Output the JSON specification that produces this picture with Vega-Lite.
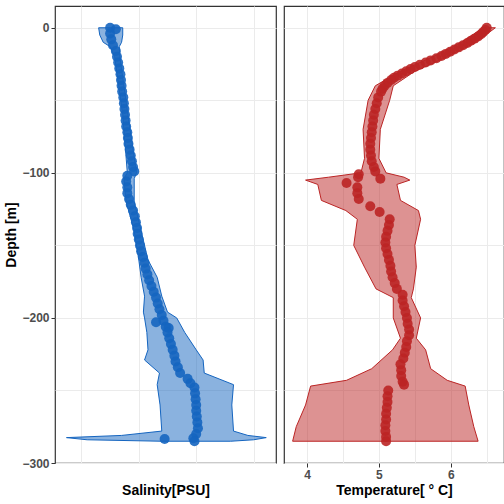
{
  "$schema": "https://vega.github.io/schema/vega-lite/v6.json",
  "background": "white",
  "padding": {"left": 4, "top": 5, "right": 6, "bottom": 4},
  "spacing": 6,
  "datasets": {
    "sal_band": [
      {"depth": 0, "lo": 31.8, "hi": 32.22}, {"depth": -5, "lo": 31.82, "hi": 32.22}, {"depth": -10, "lo": 31.88, "hi": 32.2},
      {"depth": -13, "lo": 32.0, "hi": 32.16}, {"depth": -20, "lo": 32.08, "hi": 32.17}, {"depth": -60, "lo": 32.22, "hi": 32.31},
      {"depth": -100, "lo": 32.3, "hi": 32.46}, {"depth": -104, "lo": 32.24, "hi": 32.42}, {"depth": -120, "lo": 32.28, "hi": 32.42},
      {"depth": -140, "lo": 32.42, "hi": 32.54}, {"depth": -160, "lo": 32.5, "hi": 32.66}, {"depth": -172, "lo": 32.54, "hi": 32.82},
      {"depth": -185, "lo": 32.6, "hi": 32.9}, {"depth": -196, "lo": 32.58, "hi": 33.0}, {"depth": -200, "lo": 32.6, "hi": 33.16},
      {"depth": -210, "lo": 32.64, "hi": 33.3}, {"depth": -222, "lo": 32.66, "hi": 33.5}, {"depth": -229, "lo": 32.6, "hi": 33.62},
      {"depth": -238, "lo": 32.86, "hi": 33.64}, {"depth": -246, "lo": 32.82, "hi": 34.15}, {"depth": -260, "lo": 32.87, "hi": 34.12},
      {"depth": -278, "lo": 32.9, "hi": 34.15}, {"depth": -281, "lo": 32.2, "hi": 34.4}, {"depth": -282.5, "lo": 31.24, "hi": 34.72},
      {"depth": -284, "lo": 31.6, "hi": 34.5}, {"depth": -285, "lo": 32.9, "hi": 34.1}
    ],
    "tem_band": [
      {"depth": 0, "lo": 6.45, "hi": 6.62}, {"depth": -10, "lo": 6.15, "hi": 6.35}, {"depth": -20, "lo": 5.75, "hi": 5.95},
      {"depth": -30, "lo": 5.3, "hi": 5.5}, {"depth": -40, "lo": 4.95, "hi": 5.2}, {"depth": -50, "lo": 4.85, "hi": 5.15},
      {"depth": -70, "lo": 4.78, "hi": 5.02}, {"depth": -90, "lo": 4.8, "hi": 5.0}, {"depth": -100, "lo": 4.75, "hi": 5.1},
      {"depth": -103, "lo": 4.3, "hi": 5.35}, {"depth": -105, "lo": 3.98, "hi": 5.43}, {"depth": -108, "lo": 4.15, "hi": 5.25},
      {"depth": -119, "lo": 4.2, "hi": 5.3}, {"depth": -126, "lo": 4.54, "hi": 5.55}, {"depth": -132, "lo": 4.7, "hi": 5.58},
      {"depth": -150, "lo": 4.65, "hi": 5.5}, {"depth": -165, "lo": 4.8, "hi": 5.52}, {"depth": -180, "lo": 4.96, "hi": 5.48},
      {"depth": -186, "lo": 5.2, "hi": 5.45}, {"depth": -200, "lo": 5.2, "hi": 5.58}, {"depth": -214, "lo": 5.3, "hi": 5.52},
      {"depth": -222, "lo": 5.19, "hi": 5.65}, {"depth": -235, "lo": 4.9, "hi": 5.72}, {"depth": -243, "lo": 4.55, "hi": 5.95},
      {"depth": -247, "lo": 4.05, "hi": 6.2}, {"depth": -260, "lo": 3.98, "hi": 6.25}, {"depth": -275, "lo": 3.85, "hi": 6.32},
      {"depth": -285, "lo": 3.8, "hi": 6.38}
    ],
    "sal_pts": [
      {"depth": 0, "v": 32.0}, {"depth": -1, "v": 32.1}, {"depth": -4, "v": 32.0}, {"depth": -8, "v": 32.02}, {"depth": -12, "v": 32.05},
      {"depth": -16, "v": 32.1}, {"depth": -20, "v": 32.12}, {"depth": -24, "v": 32.14}, {"depth": -28, "v": 32.16}, {"depth": -32, "v": 32.18},
      {"depth": -36, "v": 32.19}, {"depth": -40, "v": 32.2}, {"depth": -44, "v": 32.21}, {"depth": -48, "v": 32.23}, {"depth": -52, "v": 32.24},
      {"depth": -56, "v": 32.25}, {"depth": -60, "v": 32.26}, {"depth": -64, "v": 32.27}, {"depth": -68, "v": 32.28}, {"depth": -72, "v": 32.3},
      {"depth": -76, "v": 32.31}, {"depth": -80, "v": 32.32}, {"depth": -84, "v": 32.34}, {"depth": -88, "v": 32.36}, {"depth": -92, "v": 32.38},
      {"depth": -96, "v": 32.4}, {"depth": -99, "v": 32.42}, {"depth": -102, "v": 32.3}, {"depth": -106, "v": 32.28}, {"depth": -110, "v": 32.3},
      {"depth": -114, "v": 32.3}, {"depth": -118, "v": 32.33}, {"depth": -122, "v": 32.36}, {"depth": -126, "v": 32.4}, {"depth": -130, "v": 32.43},
      {"depth": -134, "v": 32.45}, {"depth": -138, "v": 32.47}, {"depth": -142, "v": 32.48}, {"depth": -146, "v": 32.5}, {"depth": -150, "v": 32.52},
      {"depth": -154, "v": 32.54}, {"depth": -158, "v": 32.57}, {"depth": -162, "v": 32.6}, {"depth": -166, "v": 32.62}, {"depth": -170, "v": 32.65},
      {"depth": -174, "v": 32.68}, {"depth": -178, "v": 32.72}, {"depth": -182, "v": 32.76}, {"depth": -186, "v": 32.8}, {"depth": -190, "v": 32.83},
      {"depth": -194, "v": 32.86}, {"depth": -198, "v": 32.9}, {"depth": -202, "v": 32.93}, {"depth": -203, "v": 32.8}, {"depth": -206, "v": 32.97},
      {"depth": -207, "v": 33.02}, {"depth": -210, "v": 33.0}, {"depth": -214, "v": 33.03}, {"depth": -218, "v": 33.06}, {"depth": -222, "v": 33.09},
      {"depth": -226, "v": 33.12}, {"depth": -230, "v": 33.14}, {"depth": -234, "v": 33.18}, {"depth": -238, "v": 33.22}, {"depth": -242, "v": 33.35},
      {"depth": -245, "v": 33.4}, {"depth": -248, "v": 33.47}, {"depth": -252, "v": 33.48}, {"depth": -256, "v": 33.49}, {"depth": -260, "v": 33.5},
      {"depth": -264, "v": 33.5}, {"depth": -268, "v": 33.51}, {"depth": -272, "v": 33.52}, {"depth": -276, "v": 33.53}, {"depth": -280, "v": 33.5},
      {"depth": -283, "v": 33.45}, {"depth": -285, "v": 33.47}, {"depth": -283.5, "v": 32.95}
    ],
    "tem_pts": [
      {"depth": 0, "v": 6.5}, {"depth": -1.5, "v": 6.48}, {"depth": -3, "v": 6.45}, {"depth": -4.5, "v": 6.42}, {"depth": -6, "v": 6.38},
      {"depth": -7.5, "v": 6.33}, {"depth": -9, "v": 6.28}, {"depth": -10.5, "v": 6.23}, {"depth": -12, "v": 6.17}, {"depth": -13.5, "v": 6.11},
      {"depth": -15, "v": 6.05}, {"depth": -16.5, "v": 5.99}, {"depth": -18, "v": 5.93}, {"depth": -19.5, "v": 5.87}, {"depth": -21, "v": 5.8},
      {"depth": -22.5, "v": 5.72}, {"depth": -24, "v": 5.65}, {"depth": -25.5, "v": 5.57}, {"depth": -27, "v": 5.5}, {"depth": -28.5, "v": 5.44},
      {"depth": -30, "v": 5.38}, {"depth": -31.5, "v": 5.32}, {"depth": -33, "v": 5.26}, {"depth": -34.5, "v": 5.21}, {"depth": -36, "v": 5.17},
      {"depth": -38, "v": 5.12}, {"depth": -40, "v": 5.08}, {"depth": -42, "v": 5.05}, {"depth": -44, "v": 5.03},
      {"depth": -48, "v": 4.99}, {"depth": -52, "v": 4.97}, {"depth": -56, "v": 4.95}, {"depth": -60, "v": 4.93}, {"depth": -64, "v": 4.92},
      {"depth": -68, "v": 4.91}, {"depth": -72, "v": 4.9}, {"depth": -76, "v": 4.89}, {"depth": -80, "v": 4.88}, {"depth": -84, "v": 4.88},
      {"depth": -88, "v": 4.89}, {"depth": -92, "v": 4.9}, {"depth": -96, "v": 4.93}, {"depth": -99, "v": 4.95},
      {"depth": -101, "v": 4.72}, {"depth": -103, "v": 4.71}, {"depth": -104, "v": 5.02}, {"depth": -107, "v": 4.55},
      {"depth": -110, "v": 4.7}, {"depth": -114, "v": 4.7}, {"depth": -118, "v": 4.72}, {"depth": -123, "v": 4.88}, {"depth": -127, "v": 5.01},
      {"depth": -132, "v": 5.15}, {"depth": -136, "v": 5.14}, {"depth": -140, "v": 5.12}, {"depth": -144, "v": 5.1}, {"depth": -148, "v": 5.09},
      {"depth": -152, "v": 5.1}, {"depth": -156, "v": 5.12}, {"depth": -160, "v": 5.14}, {"depth": -164, "v": 5.16}, {"depth": -168, "v": 5.17},
      {"depth": -172, "v": 5.19}, {"depth": -176, "v": 5.22}, {"depth": -180, "v": 5.25}, {"depth": -184, "v": 5.33}, {"depth": -188, "v": 5.33},
      {"depth": -192, "v": 5.35}, {"depth": -196, "v": 5.37}, {"depth": -200, "v": 5.39}, {"depth": -204, "v": 5.4}, {"depth": -208, "v": 5.42},
      {"depth": -212, "v": 5.42}, {"depth": -216, "v": 5.39}, {"depth": -220, "v": 5.38}, {"depth": -224, "v": 5.36}, {"depth": -228, "v": 5.34},
      {"depth": -232, "v": 5.3}, {"depth": -236, "v": 5.31}, {"depth": -240, "v": 5.31}, {"depth": -244, "v": 5.33}, {"depth": -246, "v": 5.35},
      {"depth": -250, "v": 5.13}, {"depth": -254, "v": 5.12}, {"depth": -258, "v": 5.12}, {"depth": -262, "v": 5.11}, {"depth": -266, "v": 5.1},
      {"depth": -270, "v": 5.1}, {"depth": -274, "v": 5.09}, {"depth": -278, "v": 5.09}, {"depth": -282, "v": 5.1}, {"depth": -285, "v": 5.1}
    ]
  },
  "hconcat": [
    {
      "width": 221,
      "height": 457,
      "layer": [
        {
          "data": {"name": "sal_band"},
          "mark": {"type": "area", "orient": "horizontal", "fill": "#1565C0", "fillOpacity": 0.5, "stroke": "#1565C0", "strokeWidth": 1},
          "encoding": {
            "y": {"field": "depth", "type": "quantitative", "scale": {"domain": [-300, 15], "nice": false, "zero": false},
              "title": "Depth [m]",
              "axis": {"values": [-300, -250, -200, -150, -100, -50, 0], "labelOverlap": false,
                "labelExpr": "datum.value % 100 == 0 ? format(datum.value, 'd') : ''",
                "tickOpacity": {"condition": {"test": "datum.value % 100 != 0", "value": 0}, "value": 1}}},
            "x": {"field": "lo", "type": "quantitative", "scale": {"domain": [31.04, 34.89], "nice": false, "zero": false},
              "title": "Salinity[PSU]",
              "axis": {"values": [31.5, 32, 32.5, 33, 33.5, 34, 34.5], "labelOverlap": false,
                "labelExpr": "round(datum.value) == datum.value ? format(datum.value, 'd') : ''",
                "tickOpacity": {"condition": {"test": "round(datum.value) != datum.value", "value": 0}, "value": 1}}},
            "x2": {"field": "hi"}
          }
        },
        {
          "data": {"name": "sal_pts"},
          "mark": {"type": "circle", "size": 100, "color": "#1565C0", "opacity": 0.9},
          "encoding": {
            "y": {"field": "depth", "type": "quantitative"},
            "x": {"field": "v", "type": "quantitative"}
          }
        }
      ]
    },
    {
      "width": 220,
      "height": 457,
      "layer": [
        {
          "data": {"name": "tem_band"},
          "mark": {"type": "area", "orient": "horizontal", "fill": "#BB2525", "fillOpacity": 0.5, "stroke": "#BB2525", "strokeWidth": 1},
          "encoding": {
            "y": {"field": "depth", "type": "quantitative", "scale": {"domain": [-300, 15], "nice": false, "zero": false},
              "title": null,
              "axis": {"values": [-300, -250, -200, -150, -100, -50, 0], "labels": false, "ticks": false,
                "minExtent": 0, "maxExtent": 0, "labelPadding": 0, "offset": 0}},
            "x": {"field": "lo", "type": "quantitative", "scale": {"domain": [3.68, 6.74], "nice": false, "zero": false},
              "title": "Temperature[ ° C]",
              "axis": {"values": [4, 4.5, 5, 5.5, 6, 6.5], "labelOverlap": false,
                "labelExpr": "round(datum.value) == datum.value ? format(datum.value, 'd') : ''",
                "tickOpacity": {"condition": {"test": "round(datum.value) != datum.value", "value": 0}, "value": 1}}},
            "x2": {"field": "hi"}
          }
        },
        {
          "data": {"name": "tem_pts"},
          "mark": {"type": "circle", "size": 100, "color": "#BB2525", "opacity": 0.9},
          "encoding": {
            "y": {"field": "depth", "type": "quantitative"},
            "x": {"field": "v", "type": "quantitative"}
          }
        }
      ]
    }
  ],
  "config": {
    "font": "Liberation Sans",
    "view": {"stroke": "#333333", "strokeWidth": 1.2},
    "axis": {
      "domain": false,
      "gridColor": "#EBEBEB",
      "tickColor": "#333333",
      "tickSize": 4,
      "labelColor": "#4D4D4D",
      "labelFontSize": 12,
      "labelFontWeight": "bold",
      "labelPadding": 2,
      "titleFontSize": 14,
      "titleFontWeight": "bold",
      "titleColor": "black",
      "titlePadding": 3
    }
  }
}
